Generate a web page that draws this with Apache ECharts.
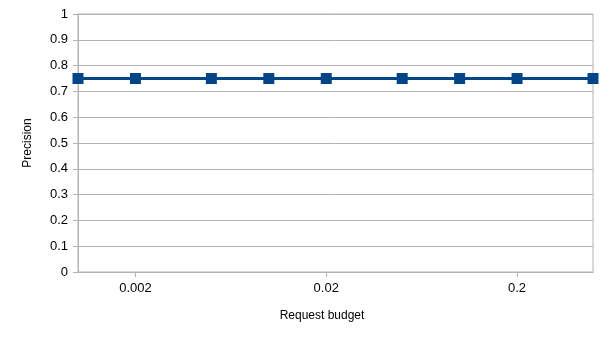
<!DOCTYPE html>
<html>
<head>
<meta charset="utf-8">
<script src="https://cdn.jsdelivr.net/npm/echarts@6/dist/echarts.min.js"></script>
<style>
html, body { margin: 0; padding: 0; background: #fff; }
#chart { width: 605px; height: 340px; }
</style>
</head>
<body>
<div id="chart"></div>
<script>
// request budget (log x) and precision
const budgets = [0.001, 0.002, 0.005, 0.01, 0.02, 0.05, 0.1, 0.2, 0.5]
const precision = [0.75, 0.75, 0.75, 0.75, 0.75, 0.75, 0.75, 0.75, 0.75]
const xLabels = [0.002, 0.02, 0.2]

const myChart = echarts.init(document.getElementById('chart'))
const option = {
  animation: false,
  textStyle: { fontFamily: 'Liberation Sans' },
  grid: {
    left: 78,
    right: 12,
    top: 14,
    bottom: 68,
    show: true,
    borderColor: '#b3b3b3',
    borderWidth: 1
  },
  xAxis: {
    type: 'log',
    logBase: 10,
    min: 0.001,
    max: 0.5,
    name: 'Request budget',
    nameLocation: 'middle',
    nameGap: 38,
    nameTextStyle: { fontSize: 12, color: '#000', padding: [0, 27, 0, 0] },
    axisLine: { lineStyle: { color: '#b3b3b3' } },
    axisTick: { show: true, length: 5, customValues: xLabels, lineStyle: { color: '#b3b3b3' } },
    axisLabel: {
      customValues: xLabels,
      fontSize: 13,
      color: '#000',
      margin: 10,
      formatter: (v) => String(parseFloat(Number(v).toPrecision(6)))
    },
    splitLine: { show: false },
    minorTick: { show: false }
  },
  yAxis: {
    type: 'value',
    min: 0,
    max: 1,
    interval: 0.1,
    name: 'Precision',
    nameLocation: 'middle',
    nameGap: 44,
    nameTextStyle: { fontSize: 12, color: '#000' },
    axisLine: { show: true, lineStyle: { color: '#b3b3b3' } },
    axisTick: { show: true, length: 5, lineStyle: { color: '#b3b3b3' } },
    axisLabel: { fontSize: 13, color: '#000', margin: 10 },
    splitLine: { lineStyle: { color: '#b3b3b3' } }
  },
  series: [
    {
      name: 'Precision',
      type: 'line',
      data: budgets.map((b, i) => [b, precision[i]]),
      symbol: 'rect',
      symbolSize: 11,
      itemStyle: { color: '#004586' },
      lineStyle: { color: '#004586', width: 3 }
    }
  ]
}
myChart.setOption(option)
</script>
</body>
</html>
